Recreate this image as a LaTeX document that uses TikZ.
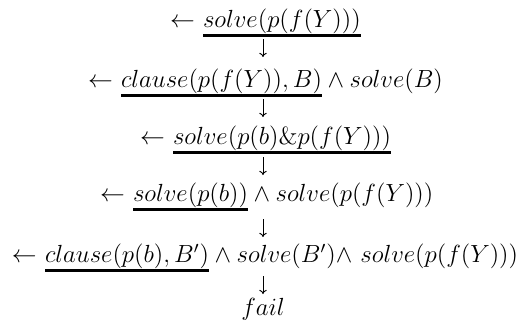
\documentclass[12pt,tikz,border=0pt]{standalone}
\usepackage{amsmath,amssymb}
\usetikzlibrary{arrows.meta,positioning}
\tikzset{
  term/.style={inner sep=0pt, outer sep=0pt, anchor=base west},
  goal line/.style={line width=1.5pt},
  derive/.style={-{To[length=2pt,width=3.6pt]}, line width=0.45pt}
}
% one resolvent: name, x, y, selected goal, remaining goals
\newcommand{\goalrow}[5]{%
  \node[term] (arr#1) at (#2,#3) {$\leftarrow$};
  \node[term,base right=4pt of arr#1] (goal#1) {$#4$};
  \node[term,base right=0pt of goal#1] (rest#1) {$#5$};
  \draw[goal line]
    ([yshift=-4.2pt]goal#1.base west) -- ([yshift=-4.2pt]goal#1.base east);
}

\begin{document}
\begin{tikzpicture}[x=0.484pt,y=-0.484pt]
  \useasboundingbox (0,0) rectangle (517,320);

  \goalrow{1}{170}{27}{solve(p(f(Y)))}{}
  \goalrow{2}{88}{87}{clause(p(f(Y)),B)}{{}\wedge solve(B)}
  \goalrow{3}{140}{144}{solve(p(b)\&p(f(Y)))}{}
  \goalrow{4}{100}{201}{solve(p(b))}{{}\wedge solve(p(f(Y)))}
  \goalrow{5}{12}{262}{clause(p(b),B')}{{}\wedge solve(B'){\wedge}\ solve(p(f(Y)))}
  \node[anchor=base] (fail) at (263,315) {$fail$};

  % derivation steps
  \foreach \i/\top/\tip in {1/39/57,2/99/117,3/157/175,4/219/237,5/276/294}{
    \coordinate (t\i) at (263,\top);
    \coordinate (h\i) at (263,\tip);
    \draw[derive] (t\i) -- (h\i);
  }
\end{tikzpicture}
\end{document}
